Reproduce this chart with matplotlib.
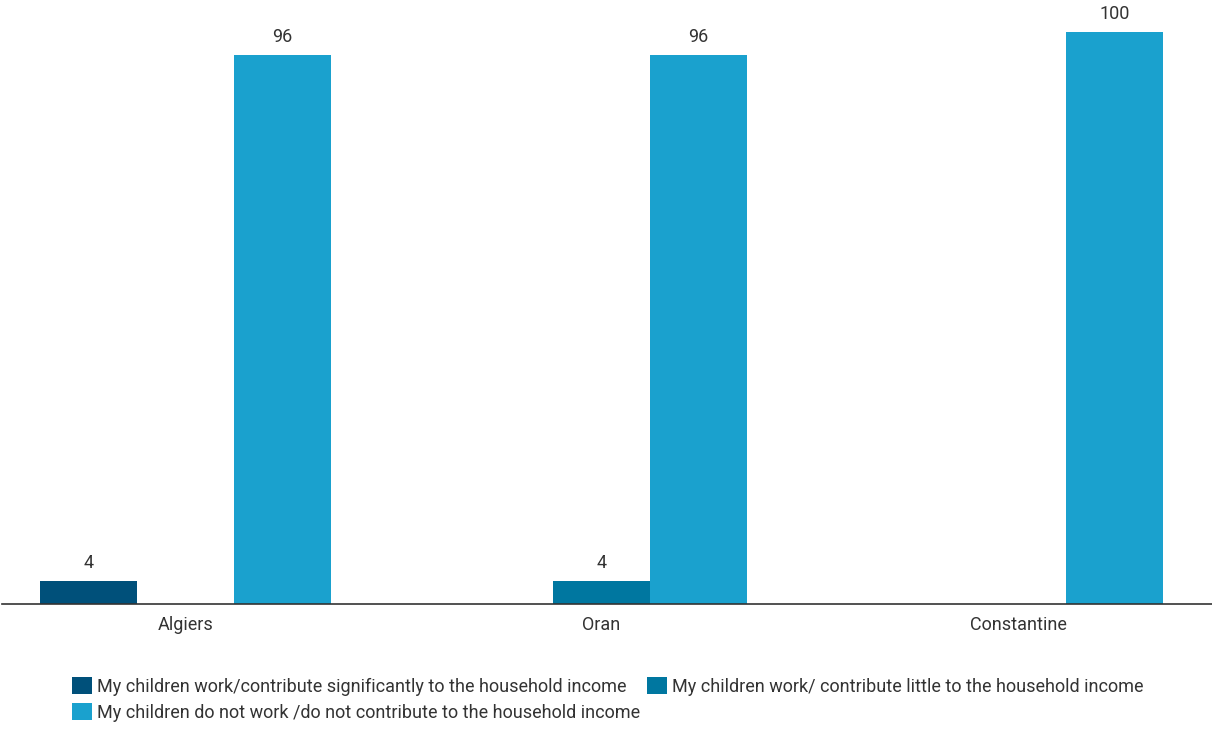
import matplotlib.pyplot as plt
import numpy as np

cities = ["Algiers", "Oran", "Constantine"]
series_names = [
    "My children work/contribute significantly to the household income",
    "My children work/ contribute little to the household income",
    "My children do not work /do not contribute to the household income",
]
significant = [4, 0, 0]
little = [0, 4, 0]
not_work = [96, 96, 100]
colors = ["#00507a", "#0077a0", "#1aa1ce"]


def main() -> None:
    plt.rcParams["font.family"] = ["Roboto", "DejaVu Sans"]
    fig = plt.figure(figsize=(12.12, 7.29), dpi=100)
    ax = fig.add_axes([2 / 1212, 125 / 729, 1210 / 1212, 604 / 729])

    fs = 13
    x = np.arange(len(cities))
    width = 0.233
    handles = []
    for i, (vals, name) in enumerate(zip([significant, little, not_work], series_names)):
        pos = x + (i - 1) * width
        bars = ax.bar(pos, vals, width, color=colors[i], label=name)
        handles.append(bars)
        for xp, v in zip(pos, vals):
            if v > 0:
                ax.annotate(f"{v}", (xp, v), xytext=(0, 6.5), textcoords="offset points",
                            ha="center", va="bottom", fontsize=fs, color="#333333")

    ax.set_xlim(-0.44, 2.466)
    ax.set_ylim(0, 105.6)
    ax.set_xticks(x, cities, fontsize=fs, color="#333333")
    ax.tick_params(axis="x", length=0, pad=9)
    ax.set_yticks([])
    for s in ["top", "right", "left"]:
        ax.spines[s].set_visible(False)
    ax.spines["bottom"].set_color("#333333")
    ax.spines["bottom"].set_linewidth(1.2)

    order = [0, 2, 1]
    fig.legend([handles[i] for i in order], [series_names[i] for i in order],
               ncol=2, loc="upper left", bbox_to_anchor=(72 / 1212, 1 - 677 / 729),
               frameon=False, fontsize=fs, handlelength=1.1, handleheight=1.1,
               handletextpad=0.3, columnspacing=0.35, labelspacing=0.4,
               borderaxespad=0, borderpad=0, labelcolor="#333333")

    fig.savefig("out.png", dpi=100)


if __name__ == "__main__":
    main()
